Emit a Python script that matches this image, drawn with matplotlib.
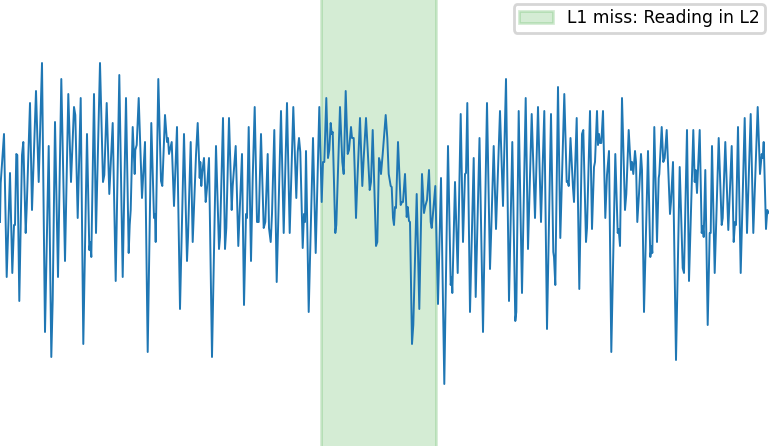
import numpy as np
import matplotlib
matplotlib.use("Agg")
import matplotlib.pyplot as plt

# sample position and signal amplitude
t = [0, 0.7, 4, 6.7, 10, 12.3, 14, 15, 16.3, 17.3, 19.3, 22, 23.3, 25.7, 26.7, 30, 32, 36, 38.7, 42,
     45, 48.7, 51.3, 52.7, 55, 58, 61.3, 65, 68.3, 71, 74, 75.3, 77.7, 80.7, 83.3, 87, 89.3, 90.3, 91.3, 94, 96,
     100, 103, 104.3, 106.7, 109.3, 112.7, 115.7, 119.3, 122.7, 126, 128.7, 129.7, 130.7, 132.7, 134.7, 135.3,
     136.7, 138.7, 142, 145, 147.7, 151.3, 154, 155, 155.7, 158.3, 161, 162.3, 165, 167, 168, 169, 170.3, 171.7,
     174, 177, 180, 184, 187, 188, 190.7,
     192.7, 195, 196, 197.7, 199.7, 200.3, 201.3, 202.3, 204, 205.7, 207, 209, 212, 216, 219, 220, 223, 225,
     226.3, 229, 231.7, 232.7, 235.7, 238.3, 242, 244, 246, 247, 248.7, 251, 252.7, 254.7, 257, 258.7, 261,
     263.7, 265.3, 267.7, 269, 270.7, 272, 274.3, 276.7, 281, 283.7, 287,
     289.7, 293.3, 296.3, 297.7, 299, 300.3, 302.7, 304, 305, 306, 308.7, 313, 315.7, 319.3, 321.7, 323, 324.3,
     326.3, 328, 329.3, 330.7, 331.7, 332.7, 335.3, 336.3, 340, 342.3, 343.7, 345.7, 347.7, 349, 351, 352,
     353.7, 354.7, 356, 357.3, 360, 362.3, 363.7, 366, 367.7, 369.7, 371, 372.7, 376, 377.3, 379, 380, 381, 382.7,
     385.7, 387.3, 388.7, 390.7, 391.7, 393, 394, 395, 396, 398, 400.7, 402, 403, 405, 406.7, 407.7, 409, 410,
     412, 413.3, 416.7, 419.3, 422, 424, 425.3, 427, 429, 430.7, 431.7, 433.3, 435.3, 438, 441, 444.3, 448,
     450.7, 451.7, 452.3, 455, 457.7, 460.7, 463, 465, 466, 467.3, 470, 473.7, 475.7, 479.5,
     483, 487, 490, 491, 493.7, 496, 500, 503, 506, 509, 512.3, 515.3, 516.3, 518.7, 522, 525.7, 528, 531.7,
     535, 538, 541, 544.3, 547, 551, 553.3, 554, 555.3, 558, 560.3, 564.3, 566.7, 567.7, 568.7, 570.5, 573, 574,
     576.7, 579.3, 582, 583.3, 586, 587, 590, 592, 594, 595, 597, 598, 599, 600, 601.3, 603, 605.3, 607, 609,
     611.3, 615.3, 617.7, 618.7, 620, 622, 625, 626.3, 628.7, 630, 631, 632, 633.3, 635, 636, 637.3, 639, 641,
     642, 644, 648, 650.3, 651.7, 652.3, 654.3, 657, 658.7, 659.3, 661.7, 663.3, 664.7, 666.7,
     670, 671, 673, 676, 679.7, 682.7, 684, 687, 689, 693.3, 694.7, 695.7, 697, 699.7, 701.7, 702.7, 703.7,
     705.3, 707.7, 709.7, 710.7, 712, 714.7, 718.7, 721.7, 722.7, 725.3, 728.3, 731.7, 733.7, 735, 736, 738,
     740.7, 744.7, 747, 750.7, 753.3, 757.7, 760, 761.7, 762.7, 763.7, 766, 767.3, 769]

v = [1, 40, 89, -54, 50, -50, -2, -2, 69, 68, -78, 68, 81, -10, 15, 120, 13, 132, 41, 160,
     -109, 77, -134, -77, 101, -54, 144, -38, 129, 41, 116, 108, 5, 125, -121, 89, -27, -19, -34, 129, -10,
     160, 41, 48, 120, 29, 100, -58, 148, -54, 125, -30, -2, 13, 96, 49, 73, 78, 125, 25, 81,
     -129, 100, 5, 9, -19, 144, 42, 37, 108, 81, 85, 69, 75, 81, 17, 96, -86, 89, -38, -14, 81,
     -19, 41, 68, 100, 45, 61, 37, 51, 65, 21, 35, 65, -134, 77, -26, -14, 105, -26, -5, 105,
     13, 37, 77, -23, 69, -82, 9, 5, 96, -38, 45, 116, 1, 1, 89, -5, 1, 69, -5, -19, 9, 93, -59, 112, -10, 120,
     -10, 116, 25, 71, 85, 71, -25, 9, 1, 72, -89, 85, -30, 116, 21, 61, 61, 125, 65, 73,
     100, 89, 91, -10, -2, 116, 61, 49, 132, 69, 73, 96, 85, 85, 53, 5, 41, 105, 37, 65,
     105, 73, 33, 41, 93, -23, -19, 65, 61, 49, 69,
     108, 85, 49, 37, 36, 5, -2, 16, 15, 81, 18, 21, 21, 49, 6, 16, 2, 1, -121, -102,
     29, -86, 49, 10, 17, 23, 53, 1, -5, 13, 37, -81, 45, -161, 77, -62, -54, -70, 41, -50,
     109, -19, 49, 50, 120, -89, 65, -74, 85,
     -109, 120, -46, -15, 77, -6, 112, 17, 144, -78, 81, -98, -89, 112, -70, 125, -26, 109, 5, 116,
     1, 112, -106, 109, -29, -34, -62, 136, -15, 129, 41, 42, 37, 85, 35, 21,
     105, -66, 89, 93, -19, -5, 112, -6, 56, 61, 112, 78, 89, 80, 80, 112, 5, 48, 72, -129,
     69, -10, -6, -23, 125, 13, 29, 93, 69, 53, 61, 49, 72, 61, 1, 29, 69, 53, -89, 72,
     -34, -23, -30, 96, -19, 45, 49, 96, 61, 65, 93,
     9, 21, 61, -137, 56, -45, -50, 93, -58, 93, 41, 53, 30, 93, -10, -3, -14, 53, -102, -10,
     -10, 77, -50, 85, -2, 5, 81, -7, 77, -19, 1, -2, 96, -50, 105, -10, 109, -10, 116, 49,
     69, 65, 81, -6, 13, 10]

miss_start = 321
miss_end = 435.5
miss_label = "L1 miss: Reading in L2"

fig = plt.figure(figsize=(7.69, 4.46), dpi=100)
ax = fig.add_axes([0, 0, 1, 1])
ax.plot(np.array(t), np.array(v), color="tab:blue", lw=1.4)
# span runs past the axes top/bottom so only its side edges show
ax.axvspan(miss_start, miss_end, ymin=-0.02, ymax=1.02, color="tab:green", alpha=0.2, lw=2, label=miss_label)
ax.set_xlim(0, 769)
ax.set_ylim(-223, 223)
ax.axis("off")
leg = ax.legend(loc="upper right", fontsize=12.3, borderaxespad=0.25, borderpad=0.3)
leg.get_frame().set_linewidth(2)

fig.savefig("out.png", dpi=100)
